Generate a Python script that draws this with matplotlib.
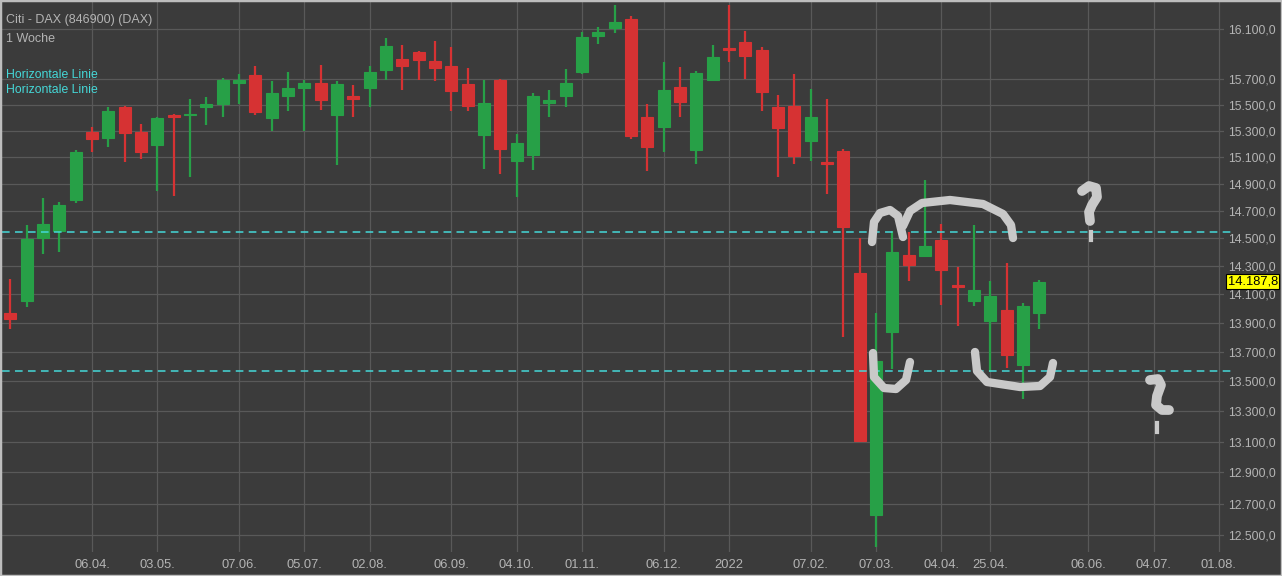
import numpy as np
import pandas as pd
import matplotlib
matplotlib.use("Agg")
import matplotlib.pyplot as plt
from matplotlib.ticker import FixedLocator, NullLocator, FuncFormatter
from matplotlib.lines import Line2D
from matplotlib.transforms import blended_transform_factory

# weekly candles, first one = week of 01.03.2021
start = "2021-03-01"
opens = [13970, 14054, 14500, 14553, 14778, 15289, 15244, 15488, 15289, 15191,
         15420, 15426, 15481, 15504, 15673, 15736, 15396, 15573, 15635, 15674,
         15419, 15573, 15635, 15775, 15861, 15917, 15845, 15807, 15666, 15266,
         15695, 15070, 15115, 15519, 15573, 15759, 16044, 16108, 16181, 15411,
         15327, 15643, 15152, 15695, 15948, 15996, 15932, 15488, 15496, 15221,
         15062, 15145, 14254, 12626, 13838, 14380, 14373, 14488, 14166, 14054,
         13914, 13991, 13612, 13970]
highs = [14209, 14596, 14794, 14765, 15152, 15327, 15481, 15496, 15357, 15411,
         15430, 15550, 15565, 15712, 15743, 15807, 15687, 15759, 15695, 15814,
         15687, 15658, 15807, 16028, 15973, 15925, 16004, 15957, 15791, 15695,
         15703, 15274, 15596, 15619, 15783, 16076, 16116, 16295, 16205, 15511,
         15838, 15799, 15767, 15973, 16295, 16084, 15957, 15581, 15743, 15627,
         15550, 15160, 14500, 13968, 14553, 14546, 14928, 14603, 14294, 14596,
         14195, 14322, 14040, 14202]
lows = [13859, 14012, 14387, 14402, 14757, 15137, 15175, 15062, 15085, 14846,
        14810, 14950, 15342, 15404, 15504, 15426, 15297, 15450, 15297, 15465,
        15040, 15411, 15481, 15695, 15619, 15695, 15687, 15450, 15450, 15010,
        14972, 14802, 15003, 15404, 15488, 15744, 15980, 16068, 15236, 14995,
        15137, 15411, 15047, 15687, 15838, 15703, 15450, 14950, 15047, 15070,
        14824, 13804, 13099, 12430, 13585, 14195, 14373, 14026, 13880, 14019,
        13565, 13592, 13383, 13859]
closes = [13928, 14495, 14603, 14743, 15137, 15236, 15450, 15281, 15137, 15396,
          15405, 15434, 15511, 15695, 15695, 15442, 15596, 15635, 15674, 15542,
          15666, 15550, 15759, 15965, 15807, 15853, 15791, 15612, 15496, 15519,
          15160, 15206, 15573, 15535, 15674, 16036, 16076, 16156, 15259, 15175,
          15619, 15527, 15751, 15877, 15932, 15885, 15604, 15320, 15107, 15411,
          15047, 14580, 13105, 13640, 14401, 14308, 14444, 14273, 14152, 14131,
          14089, 13680, 14019, 14187.8]

hlines = [14546, 13569]
last_price = 14187.8

tick_dates = ["2021-04-06", "2021-05-03", "2021-06-07", "2021-07-05", "2021-08-02",
              "2021-09-06", "2021-10-04", "2021-11-01", "2021-12-06", "2022-01-03",
              "2022-02-07", "2022-03-07", "2022-04-04", "2022-04-25", "2022-06-06",
              "2022-07-04", "2022-08-01"]
tick_labels = ["06.04.", "03.05.", "07.06.", "05.07.", "02.08.", "06.09.", "04.10.",
               "01.11.", "06.12.", "2022", "07.02.", "07.03.", "04.04.", "25.04.",
               "06.06.", "04.07.", "01.08."]
price_ticks = [12500, 12700, 12900, 13100, 13300, 13500, 13700, 13900, 14100,
               14300, 14500, 14700, 14900, 15100, 15300, 15500, 15700, 16100]

BG = "#3b3b3b"
GRID = "#595959"
TXT = "#b4b4b4"
GREEN = "#27a047"
RED = "#d63233"
CYAN = "#45d8d8"
PEN = "#c9c9c9"
FONT = "Liberation Sans"

W, H = 1282, 576
fig = plt.figure(figsize=(W / 100, H / 100), dpi=100, facecolor=BG)
ax = fig.add_axes([2 / W, 1 - 552 / H, 1222 / W, 550 / H], facecolor=BG)

o = np.array(opens, float)
h = np.array(highs, float)
l = np.array(lows, float)
c = np.array(closes, float)
x = np.arange(len(o))
col = np.where(c >= o, GREEN, RED)

ax.set_yscale("log")
ax.vlines(x, l, h, colors=col, lw=1.6, zorder=3)
bottom = np.minimum(o, c)
height = np.maximum(np.abs(c - o), 8)
ax.bar(x, height, bottom=bottom, width=0.74, color=col, edgecolor=col, lw=0.8, zorder=4)

for v in hlines:
    ax.axhline(v, xmin=0, xmax=1.007, color=CYAN, lw=1.1, ls=(0, (5, 3.5)), clip_on=False, zorder=5)

ax.set_xlim(-0.51, 74.31)
ax.set_ylim(12396, 16319)

t0 = pd.Timestamp(start)
tick_pos = [(pd.Timestamp(d) - t0).days // 7 for d in tick_dates]
ax.xaxis.set_major_locator(FixedLocator(tick_pos))
ax.set_xticklabels(tick_labels)
ax.yaxis.set_major_locator(FixedLocator(price_ticks))
ax.yaxis.set_minor_locator(NullLocator())


def de_fmt(v, pos=None):
    s = f"{v:,.1f}"
    return s.replace(",", "X").replace(".", ",").replace("X", ".")


ax.yaxis.set_major_formatter(FuncFormatter(de_fmt))
ax.yaxis.tick_right()
ax.tick_params(axis="both", length=0, colors=TXT)
ax.tick_params(axis="x", pad=5, labelsize=9.3)
ax.tick_params(axis="y", pad=3, labelsize=8.8)
for lab in ax.get_xticklabels() + ax.get_yticklabels():
    lab.set_fontfamily(FONT)
ax.grid(True, color=GRID, lw=0.9)
ax.set_axisbelow(True)
for s in ax.spines.values():
    s.set_visible(False)

# last price marker
tr = blended_transform_factory(ax.transAxes, ax.transData)
ax.text(1.003, last_price, de_fmt(last_price), transform=tr, ha="left", va="center",
        fontsize=9.3, family=FONT, color="black", clip_on=False, zorder=10,
        bbox=dict(boxstyle="square,pad=0.12", fc="#ffff00", ec="black", lw=0.8))

# header texts
fig.text(6 / W, 1 - 20 / H, "Citi - DAX (846900) (DAX)", color=TXT, fontsize=9, family=FONT, va="center")
fig.text(6 / W, 1 - 39 / H, "1 Woche", color=TXT, fontsize=9, family=FONT, va="center")
fig.text(6 / W, 1 - 75 / H, "Horizontale Linie", color=CYAN, fontsize=8.8, family=FONT, va="center")
fig.text(6 / W, 1 - 90 / H, "Horizontale Linie", color=CYAN, fontsize=8.8, family=FONT, va="center")

# hand drawn marks (pixel coords of the screenshot)
braces = [
    [(872, 242), (874, 222), (880, 213), (890, 210), (898, 216), (903, 237)],
    [(903, 226), (910, 211), (922, 203), (950, 200), (983, 204), (1003, 214), (1011, 225), (1013, 238)],
    [(873, 353), (874, 377), (884, 388), (896, 389), (906, 380), (910, 362)],
    [(975, 352), (977, 371), (987, 382), (1020, 387), (1040, 386), (1050, 377), (1053, 363)],
]
qmarks = [
    [(1082, 191), (1089, 186), (1096, 188), (1097, 197), (1092, 205), (1089, 212), (1090, 221)],
    [(1150, 380), (1158, 379), (1161, 385), (1157, 396), (1156, 405), (1162, 410), (1169, 410)],
]


def stroke(pts, lw):
    px = [p[0] / W for p in pts]
    py = [1 - p[1] / H for p in pts]
    fig.add_artist(Line2D(px, py, color=PEN, lw=lw, solid_capstyle="round",
                          solid_joinstyle="round", transform=fig.transFigure, zorder=20))


for pts in braces:
    stroke(pts, 6.0)
for pts in qmarks:
    stroke(pts, 7.0)
for dx, dy0, dy1 in [(1091, 232, 240), (1157, 423, 432)]:
    fig.add_artist(Line2D([dx / W, dx / W], [1 - dy0 / H, 1 - dy1 / H], color=PEN, lw=3.0,
                          transform=fig.transFigure, zorder=20))

# screenshot frame
fig.add_artist(plt.Rectangle((0, 0), 1, 1, transform=fig.transFigure, fill=False,
                             ec="#bdbdbd", lw=2.5, zorder=30))

fig.savefig("out.png", dpi=100, facecolor=BG)
